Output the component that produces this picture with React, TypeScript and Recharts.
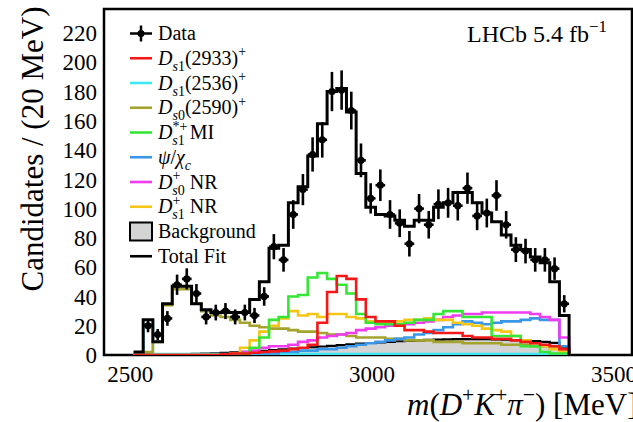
import React from 'react';
import {
  ComposedChart,
  Line,
  Area,
  Scatter,
  ErrorBar,
  XAxis,
  YAxis,
  ReferenceArea,
  Legend,
  Label,
} from 'recharts';

const FONT = '"Liberation Serif", "Times New Roman", serif';

// 20 MeV bins; low edge of the first bin
const BIN_LOW = 2507;
const BIN_WIDTH = 20;

// candidates per bin (data start in the second bin)
const dataCounts = [
  20, 14, 25, 48, 52, 42, 26, 29, 30, 26, 29, 27, 40, 74, 65, 96, 113, 137, 147, 180, 181, 167,
  133, 107, 116, 96, 90, 76, 100, 89, 103, 104, 102, 114, 95, 97, 109, 89, 72, 71, 65, 65, 59, 35,
];

// fit components, one value per bin (45 bins)
const totalFit = [
  2, 24, 9, 35, 47, 47, 35, 31, 29, 29, 29, 29, 38, 50, 73, 75, 104, 115, 136, 158, 180, 182, 166,
  124, 101, 96, 95, 92, 88, 92, 92, 101, 104, 111, 111, 104, 97, 91, 82, 75, 72, 67, 63, 50, 27,
];
const background = [
  0, 0.3, 0.3, 0.4, 0.5, 0.6, 0.8, 1, 1.2, 1.5, 1.8, 2.1, 2.5, 2.9, 3.3, 3.8, 4.3, 4.8, 5.3, 5.8,
  6.3, 6.8, 7.3, 7.8, 8.2, 8.6, 9, 9.4, 9.7, 10, 10.3, 10.5, 10.7, 10.8, 10.9, 10.9, 10.8, 10.7,
  10.5, 10.2, 9.9, 9.5, 9, 8.3, 5.5,
];
const ds1_2933 = [
  0, 0, 0, 0, 0, 0, 0, 0, 0, 0.5, 1, 1, 1.5, 2, 2.5, 3, 4, 5, 7, 22, 43, 54, 52, 38, 26, 23, 23,
  20, 17, 17, 16, 15, 15, 15, 13, 12, 12, 11, 11, 10, 9, 8, 7, 6, 4,
];
const ds1_2536 = [
  0, 21, 0.7, 0.7, 0.7, 0.7, 0.7, 0.7, 0.7, 0.7, 0.7, 0.7, 0.7, 0.7, 0.7, 0.7, 0.7, 0.7, 0.7, 0.7,
  0.7, 0.7, 0.7, 0.7, 0.7, 0.7, 0.7, 0.7, 0.7, 0.7, 0.7, 0.7, 0.7, 0.7, 0.7, 0.7, 0.7, 0.7, 0.7,
  0.7, 0.7, 0.7, 0.7, 0.7, 0.7,
];
const ds0_2590 = [
  0, 2, 9, 34, 45, 45, 35, 30, 27, 26, 24, 22, 20, 19, 18, 18, 17, 16, 16, 15, 14, 14, 13, 12, 12,
  12, 11, 11, 10, 10, 10, 9, 9, 9, 8, 8, 8, 8, 7, 7, 7, 6, 6, 5, 4,
];
const ds1StarMI = [
  0, 0, 0, 0, 0, 0, 0, 0, 0, 0, 0, 1, 5, 12, 24, 26, 40, 41, 53, 56, 52, 48, 42, 28, 22, 21, 21,
  21, 22, 24, 24, 28, 30, 30, 26, 26, 26, 13, 13, 13, 6, 6, 2, 1, 1,
];
const psiChic = [
  0, 0, 0, 0, 0, 0, 0, 0, 0, 0, 0, 0.5, 1, 1, 1, 2, 2, 3, 3, 4, 4, 5, 6, 7, 8, 9, 10, 11, 12, 14,
  15, 17, 19, 21, 23, 22, 21, 22, 23, 23, 24, 25, 24, 24, 6,
];
const ds0NR = [
  0, 0, 0, 0, 0, 0, 0, 0, 0, 0, 1, 2, 3, 5, 6, 6, 7, 9, 10, 12, 13, 14, 15, 17, 18, 19, 20, 20,
  21, 22, 23, 24, 26, 27, 28, 28, 29, 29, 29, 29, 29, 28, 26, 24, 12,
];
const ds1NR = [
  0, 0, 0, 0, 0, 0, 0, 0, 0, 0, 1, 5, 10, 16, 20, 25, 30, 27, 28, 26, 28, 28, 26, 25, 23, 22, 22,
  23, 24, 24, 25, 24, 24, 22, 21, 20, 18, 17, 16, 13, 10, 8, 6, 4, 2,
];

const xTicksMajor = [2500, 3000, 3500];
const xTicksMinor = [2500, 2600, 2700, 2800, 2900, 3000, 3100, 3200, 3300, 3400, 3500];
const yTicksMajor = [0, 20, 40, 60, 80, 100, 120, 140, 160, 180, 200, 220];
const yTicksMinor = [
  0, 5, 10, 15, 20, 25, 30, 35, 40, 45, 50, 55, 60, 65, 70, 75, 80, 85, 90, 95, 100, 105, 110, 115,
  120, 125, 130, 135, 140, 145, 150, 155, 160, 165, 170, 175, 180, 185, 190, 195, 200, 205, 210,
  215, 220, 225, 230, 235,
];

const X_DOMAIN: [number, number] = [2446, 3537];
const Y_DOMAIN: [number, number] = [0, 236.4];

const COLORS = {
  ds1_2933: '#f21818',
  ds1_2536: '#3de8f2',
  ds0_2590: '#a3a32e',
  ds1StarMI: '#36e636',
  psiChic: '#3a96e6',
  ds0NR: '#f03cf0',
  ds1NR: '#f5c518',
};

// histogram rows at the bin low edges, closed with a zero at the last upper edge
const histRows = totalFit.map((_, i) => ({
  x: BIN_LOW + i * BIN_WIDTH,
  fit: totalFit[i],
  bg: background[i],
  ds1_2933: ds1_2933[i],
  ds1_2536: ds1_2536[i],
  ds0_2590: ds0_2590[i],
  ds1StarMI: ds1StarMI[i],
  psiChic: psiChic[i],
  ds0NR: ds0NR[i],
  ds1NR: ds1NR[i],
}));
histRows.push({
  x: BIN_LOW + totalFit.length * BIN_WIDTH,
  fit: 0, bg: 0, ds1_2933: 0, ds1_2536: 0, ds0_2590: 0, ds1StarMI: 0, psiChic: 0, ds0NR: 0, ds1NR: 0,
});

const dataRows = dataCounts.map((n, i) => ({
  x: BIN_LOW + (i + 1) * BIN_WIDTH + BIN_WIDTH / 2,
  y: n,
  ey: Math.sqrt(n),
  ex: BIN_WIDTH / 2,
}));

type Part = { t: string; it?: boolean; pos?: 'sub' | 'sup'; dx?: number };

// text with italic pieces, sub- and superscripts
const RichText = ({ x, y, size, parts }: { x: number; y: number; size: number; parts: Part[] }) => {
  let shift = 0;
  return (
    <text x={x} y={y} fontSize={size} fontFamily={FONT} fill="#000">
      {parts.map((p, i) => {
        const target = p.pos === 'sub' ? size * 0.3 : p.pos === 'sup' ? -size * 0.42 : 0;
        const dy = target - shift;
        shift = target;
        return (
          <tspan
            key={i}
            dy={dy}
            dx={p.dx || 0}
            fontStyle={p.it ? 'italic' : 'normal'}
            fontSize={p.pos ? size * 0.7 : size}
          >
            {p.t}
          </tspan>
        );
      })}
    </text>
  );
};

const legendItems: { color: string; parts: Part[] }[] = [
  { color: COLORS.ds1_2933, parts: [{ t: 'D', it: true }, { t: 's', it: true, pos: 'sub' }, { t: '1', pos: 'sub' }, { t: '(2933)' }, { t: '+', pos: 'sup' }] },
  { color: COLORS.ds1_2536, parts: [{ t: 'D', it: true }, { t: 's', it: true, pos: 'sub' }, { t: '1', pos: 'sub' }, { t: '(2536)' }, { t: '+', pos: 'sup' }] },
  { color: COLORS.ds0_2590, parts: [{ t: 'D', it: true }, { t: 's', it: true, pos: 'sub' }, { t: '0', pos: 'sub' }, { t: '(2590)' }, { t: '+', pos: 'sup' }] },
  { color: COLORS.ds1StarMI, parts: [{ t: 'D', it: true }, { t: '*+', pos: 'sup' }, { t: 's', it: true, pos: 'sub', dx: -15 }, { t: '1', pos: 'sub' }, { t: ' MI' }] },
  { color: COLORS.psiChic, parts: [{ t: 'ψ', it: true }, { t: '/' }, { t: 'χ', it: true }, { t: 'c', it: true, pos: 'sub' }] },
  { color: COLORS.ds0NR, parts: [{ t: 'D', it: true }, { t: '+', pos: 'sup' }, { t: 's', it: true, pos: 'sub', dx: -8 }, { t: '0', pos: 'sub' }, { t: ' NR' }] },
  { color: COLORS.ds1NR, parts: [{ t: 'D', it: true }, { t: '+', pos: 'sup' }, { t: 's', it: true, pos: 'sub', dx: -8 }, { t: '1', pos: 'sub' }, { t: ' NR' }] },
];

const LegendBox = () => {
  const rowY = (i: number) => 33.5 + i * 24.75;
  const x0 = 130;
  const x1 = 152;
  const tx = 158;
  return (
    <svg width={300} height={275} style={{ display: 'block', overflow: 'visible' }}>
      {/* data marker */}
      <line x1={x0} x2={x1} y1={rowY(0)} y2={rowY(0)} stroke="#000" strokeWidth={2.5} />
      <line x1={141} x2={141} y1={rowY(0) - 8} y2={rowY(0) + 8} stroke="#000" strokeWidth={2.5} />
      <circle cx={141} cy={rowY(0)} r={3.5} fill="#000" />
      <RichText x={tx} y={rowY(0) + 6.5} size={20} parts={[{ t: 'Data' }]} />
      {legendItems.map((item, i) => (
        <g key={i}>
          <line x1={x0} x2={x1} y1={rowY(i + 1)} y2={rowY(i + 1)} stroke={item.color} strokeWidth={2.6} />
          <RichText x={tx} y={rowY(i + 1) + 6.5} size={20} parts={item.parts} />
        </g>
      ))}
      <rect x={x0} y={rowY(8) - 9} width={x1 - x0} height={18} fill="#d4d4d4" stroke="#000" strokeWidth={2} />
      <RichText x={tx} y={rowY(8) + 6.5} size={20} parts={[{ t: 'Background' }]} />
      <line x1={x0} x2={x1} y1={rowY(9)} y2={rowY(9)} stroke="#000" strokeWidth={2.6} />
      <RichText x={tx} y={rowY(9) + 6.5} size={20} parts={[{ t: 'Total Fit' }]} />
    </svg>
  );
};

const XTitle = () => (
  <RichText
    x={407}
    y={415}
    size={31}
    parts={[
      { t: 'm', it: true }, { t: '(' }, { t: 'D', it: true }, { t: '+', pos: 'sup' },
      { t: 'K', it: true }, { t: '+', pos: 'sup' }, { t: 'π', it: true }, { t: '−', pos: 'sup' },
      { t: ')' }, { t: ' [MeV]' },
    ]}
  />
);

const YTitle = () => (
  <text transform="translate(43,149) rotate(-90)" textAnchor="middle" fontSize={31} fontFamily={FONT} fill="#000">
    Candidates / (20 MeV)
  </text>
);

const Lumi = () => (
  <RichText x={467} y={42} size={24} parts={[{ t: 'LHCb 5.4 fb' }, { t: '−1', pos: 'sup' }]} />
);

const TICK = { stroke: '#000', strokeWidth: 2 };
const TICK_FONT = { fontFamily: FONT, fontSize: 23, fill: '#000' };
const LINE_W = 2.6;

export default function App() {
  return (
    <div style={{ position: 'absolute', left: 0, top: 0, width: 633, height: 422, background: '#fff' }}>
      <ComposedChart width={633} height={422} data={histRows} margin={{ top: 9, right: 1, bottom: 0, left: 0 }}>
        <XAxis
          xAxisId="m" dataKey="x" type="number" domain={X_DOMAIN} allowDataOverflow
          ticks={xTicksMajor} interval={0} height={67} tickSize={0} tickMargin={11}
          axisLine={false} tickLine={false} tick={TICK_FONT}
          label={<Label content={XTitle} />}
        />
        <XAxis xAxisId="bMaj" dataKey="x" type="number" domain={X_DOMAIN} allowDataOverflow mirror height={0}
          ticks={xTicksMajor} interval={0} tick={false} tickSize={14} tickLine={TICK} axisLine={false} />
        <XAxis xAxisId="bMin" dataKey="x" type="number" domain={X_DOMAIN} allowDataOverflow mirror height={0}
          ticks={xTicksMinor} interval={0} tick={false} tickSize={7} tickLine={TICK} axisLine={false} />
        <XAxis xAxisId="tMaj" orientation="top" dataKey="x" type="number" domain={X_DOMAIN} allowDataOverflow mirror height={0}
          ticks={xTicksMajor} interval={0} tick={false} tickSize={14} tickLine={TICK} axisLine={false} />
        <XAxis xAxisId="tMin" orientation="top" dataKey="x" type="number" domain={X_DOMAIN} allowDataOverflow mirror height={0}
          ticks={xTicksMinor} interval={0} tick={false} tickSize={7} tickLine={TICK} axisLine={false} />

        <YAxis
          yAxisId="n" type="number" domain={Y_DOMAIN} allowDataOverflow
          ticks={yTicksMajor} interval={0} width={104} tickSize={0} tickMargin={7}
          axisLine={false} tickLine={false} tick={TICK_FONT}
          label={<Label content={YTitle} />}
        />
        <YAxis yAxisId="lMaj" type="number" domain={Y_DOMAIN} allowDataOverflow mirror width={0}
          ticks={yTicksMajor} interval={0} tick={false} tickSize={14} tickLine={TICK} axisLine={false} />
        <YAxis yAxisId="lMin" type="number" domain={Y_DOMAIN} allowDataOverflow mirror width={0}
          ticks={yTicksMinor} interval={0} tick={false} tickSize={7} tickLine={TICK} axisLine={false} />
        <YAxis yAxisId="rMaj" orientation="right" type="number" domain={Y_DOMAIN} allowDataOverflow mirror width={0}
          ticks={yTicksMajor} interval={0} tick={false} tickSize={14} tickLine={TICK} axisLine={false} />
        <YAxis yAxisId="rMin" orientation="right" type="number" domain={Y_DOMAIN} allowDataOverflow mirror width={0}
          ticks={yTicksMinor} interval={0} tick={false} tickSize={7} tickLine={TICK} axisLine={false} />

        <Area xAxisId="m" yAxisId="n" type="stepAfter" dataKey="bg" fill="#d4d4d4" fillOpacity={1}
          stroke="#000" strokeWidth={2.2} dot={false} activeDot={false} isAnimationActive={false} />
        <Line xAxisId="m" yAxisId="n" type="stepAfter" dataKey="ds1_2536" stroke={COLORS.ds1_2536} strokeWidth={LINE_W} dot={false} activeDot={false} isAnimationActive={false} />
        <Line xAxisId="m" yAxisId="n" type="stepAfter" dataKey="ds0_2590" stroke={COLORS.ds0_2590} strokeWidth={LINE_W} dot={false} activeDot={false} isAnimationActive={false} />
        <Line xAxisId="m" yAxisId="n" type="stepAfter" dataKey="psiChic" stroke={COLORS.psiChic} strokeWidth={LINE_W} dot={false} activeDot={false} isAnimationActive={false} />
        <Line xAxisId="m" yAxisId="n" type="stepAfter" dataKey="ds0NR" stroke={COLORS.ds0NR} strokeWidth={LINE_W} dot={false} activeDot={false} isAnimationActive={false} />
        <Line xAxisId="m" yAxisId="n" type="stepAfter" dataKey="ds1NR" stroke={COLORS.ds1NR} strokeWidth={LINE_W} dot={false} activeDot={false} isAnimationActive={false} />
        <Line xAxisId="m" yAxisId="n" type="stepAfter" dataKey="ds1StarMI" stroke={COLORS.ds1StarMI} strokeWidth={LINE_W} dot={false} activeDot={false} isAnimationActive={false} />
        <Line xAxisId="m" yAxisId="n" type="stepAfter" dataKey="ds1_2933" stroke={COLORS.ds1_2933} strokeWidth={LINE_W} dot={false} activeDot={false} isAnimationActive={false} />
        <Line xAxisId="m" yAxisId="n" type="stepAfter" dataKey="fit" stroke="#000" strokeWidth={3} dot={false} activeDot={false} isAnimationActive={false} />

        <Scatter
          xAxisId="m" yAxisId="n" data={dataRows} dataKey="y" isAnimationActive={false}
          shape={(p: any) => <circle cx={p.cx} cy={p.cy} r={3.6} fill="#000" />}
        >
          <ErrorBar dataKey="ey" direction="y" width={0} stroke="#000" strokeWidth={2.6} />
          <ErrorBar dataKey="ex" direction="x" width={0} stroke="#000" strokeWidth={2.6} />
        </Scatter>

        <ReferenceArea
          xAxisId="m" yAxisId="n" x1={X_DOMAIN[0]} x2={X_DOMAIN[1]} y1={Y_DOMAIN[0]} y2={Y_DOMAIN[1]}
          fill="none" fillOpacity={0} stroke="#000" strokeWidth={2.5} ifOverflow="visible"
          label={<Label content={Lumi} />}
        />

        <Legend
          layout="vertical" align="center" verticalAlign="middle"
          content={() => <LegendBox />}
          wrapperStyle={{ left: 0, top: 0, width: 300, height: 275 }}
        />
      </ComposedChart>
    </div>
  );
}
